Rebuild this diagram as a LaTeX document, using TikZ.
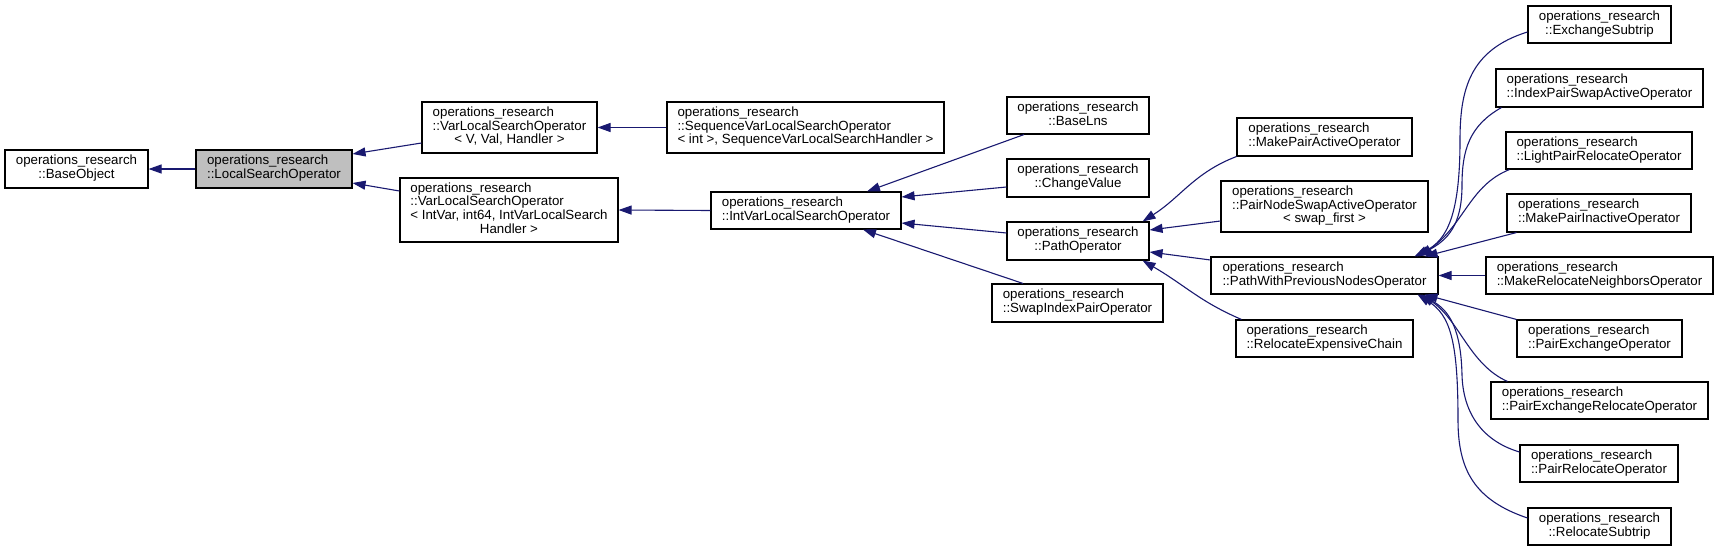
\documentclass[tikz,border=0pt]{standalone}
\usepackage{fontspec}
\setmainfont{Liberation Sans}
\usetikzlibrary{arrows.meta,calc}
\definecolor{edgeblue}{HTML}{191970}
\definecolor{boxgray}{HTML}{BFBFBF}
\newcommand\dxlabel[2]{\begin{tabular}{@{}l@{}}#1\\\multicolumn{1}{@{}c@{}}{#2}\end{tabular}}
\begin{document}
\begin{tikzpicture}[x=1pt,y=-1pt,
  box/.style={draw=black, line width=1.1pt, inner sep=0pt, fill=white,
    font=\fontsize{13.3}{13.6}\selectfont},
  sz/.style 2 args={minimum width=#1pt, minimum height=#2pt},
  edge/.style={draw=edgeblue, line width=1.1pt, -{Triangle[length=13pt,width=9pt]}}]
\useasboundingbox (0,0) rectangle (1718,551);

\node[box,sz={143}{38}] (base) at (76.5,169) {\dxlabel{operations\_research}{::BaseObject}};
\node[box,sz={156}{38},fill=boxgray] (lso) at (274,169) {\dxlabel{operations\_research}{::LocalSearchOperator}};
\node[box,sz={175}{51}] (vlsoV) at (509.5,127.5) {\dxlabel{operations\_research\\::VarLocalSearchOperator}{< V, Val, Handler >}};
\node[box,sz={218}{64}] (vlsoI) at (509,210) {\dxlabel{operations\_research\\::VarLocalSearchOperator\\< IntVar, int64, IntVarLocalSearch}{Handler >}};
\node[box,sz={277}{51}] (seq) at (805.5,127.5) {\dxlabel{operations\_research\\::SequenceVarLocalSearchOperator}{< int >, SequenceVarLocalSearchHandler >}};
\node[box,sz={190}{37}] (ivlso) at (806,210.5) {\dxlabel{operations\_research}{::IntVarLocalSearchOperator}};
\node[box,sz={142}{37}] (baselns) at (1078,115.5) {\dxlabel{operations\_research}{::BaseLns}};
\node[box,sz={142}{38}] (changev) at (1078,178) {\dxlabel{operations\_research}{::ChangeValue}};
\node[box,sz={142}{38}] (pathop) at (1078,241) {\dxlabel{operations\_research}{::PathOperator}};
\node[box,sz={171}{38}] (swapidx) at (1077.5,303) {\dxlabel{operations\_research}{::SwapIndexPairOperator}};
\node[box,sz={175}{38}] (mkpairact) at (1324.5,137) {\dxlabel{operations\_research}{::MakePairActiveOperator}};
\node[box,sz={207}{51}] (pairnode) at (1324.5,206.5) {\dxlabel{operations\_research\\::PairNodeSwapActiveOperator}{< swap\_first >}};
\node[box,sz={227}{37}] (pathprev) at (1324.5,275.5) {\dxlabel{operations\_research}{::PathWithPreviousNodesOperator}};
\node[box,sz={177}{37}] (relocexp) at (1324.5,338.5) {\dxlabel{operations\_research}{::RelocateExpensiveChain}};
\node[box,sz={143}{37}] (exsub) at (1599.5,24.5) {\dxlabel{operations\_research}{::ExchangeSubtrip}};
\node[box,sz={207}{38}] (idxpair) at (1599.5,88) {\dxlabel{operations\_research}{::IndexPairSwapActiveOperator}};
\node[box,sz={186}{37}] (lightpair) at (1599,150.5) {\dxlabel{operations\_research}{::LightPairRelocateOperator}};
\node[box,sz={184}{38}] (mkpairinact) at (1599,213) {\dxlabel{operations\_research}{::MakePairInactiveOperator}};
\node[box,sz={227}{37}] (mkrelocn) at (1599.5,275.5) {\dxlabel{operations\_research}{::MakeRelocateNeighborsOperator}};
\node[box,sz={165}{37}] (pairex) at (1599.5,338.5) {\dxlabel{operations\_research}{::PairExchangeOperator}};
\node[box,sz={217}{37}] (pairexreloc) at (1599.5,400.5) {\dxlabel{operations\_research}{::PairExchangeRelocateOperator}};
\node[box,sz={158}{37}] (pairreloc) at (1599,463.5) {\dxlabel{operations\_research}{::PairRelocateOperator}};
\node[box,sz={143}{37}] (relocsub) at (1599.5,526.5) {\dxlabel{operations\_research}{::RelocateSubtrip}};

% edges (child -> parent, arrow at parent)
\draw[edge] (lso.west) -- (base.east);
\draw[edge] ($(vlsoV.west)+(0,15.5)$) -- ($(lso.east)+(0,-15)$);
\draw[edge] ($(vlsoI.west)+(0,-19)$) -- ($(lso.east)+(0,14)$);
\draw[edge] (seq.west) -- (vlsoV.east);
\draw[edge] (ivlso.west) -- (vlsoI.east);
\draw[edge] ($(baselns.south)+(-54,0)$) -- ($(ivlso.north)+(61,0)$);
\draw[edge] ($(changev.west)+(0,9)$) -- ($(ivlso.east)+(0,-13.5)$);
\draw[edge] ($(pathop.west)+(0,-8)$) -- ($(ivlso.east)+(0,12.5)$);
\draw[edge] ($(swapidx.north)+(-54.5,0)$) -- ($(ivlso.south)+(57,0)$);

\draw[edge] (mkpairact.south west) .. controls +(-42,16) and +(38,-24) .. ($(pathop.north east)+(-7,0)$);
\draw[edge] ($(pairnode.west)+(0,14.5)$) -- ($(pathop.east)+(0,-11)$);
\draw[edge] ($(pathprev.west)+(0,-15.5)$) -- ($(pathop.east)+(0,11)$);
\draw[edge] ($(relocexp.north west)+(6,0)$) .. controls +(-42,-18) and +(43,25) .. ($(pathop.south east)+(-7,0)$);

\coordinate (es1) at (1460,140);
\coordinate (ip1) at (1462,185);
\coordinate (pr1) at (1462,375);
\coordinate (rs1) at (1458,420);
\draw[edge] ($(exsub.west)+(0,7.5)$) .. controls +(-58,18) and (1460,90) .. (es1) .. controls (1460,215) and (1447,240) .. ($(pathprev.north east)+(-24,0)$);
\draw[edge] ($(idxpair.south west)+(6,0)$) .. controls +(-32,18) and (1462,150) .. (ip1) .. controls (1462,225) and (1448,240) .. ($(pathprev.north east)+(-22,0)$);
\draw[edge] ($(lightpair.south west)+(4,0)$) .. controls +(-40,16) and +(45,-32) .. ($(pathprev.north east)+(-19,0)$);
\draw[edge] ($(mkpairinact.south west)+(10,0)$) -- ($(pathprev.north east)+(-14,0)$);
\draw[edge] (mkrelocn.west) -- (pathprev.east);
\draw[edge] (pairex.north west) -- ($(pathprev.south east)+(-14,0)$);
\draw[edge] ($(pairexreloc.north west)+(17,0)$) .. controls +(-38,-17) and +(38,26) .. ($(pathprev.south east)+(-17,0)$);
\draw[edge] ($(pairreloc.west)+(0,-11.5)$) .. controls +(-40,-12) and (1463,410) .. (pr1) .. controls (1461,330) and (1450,310) .. ($(pathprev.south east)+(-19,0)$);
\draw[edge] ($(relocsub.west)+(0,-8.5)$) .. controls +(-53,-18) and (1458,470) .. (rs1) .. controls (1458,340) and (1450,315) .. ($(pathprev.south east)+(-21,0)$);
\end{tikzpicture}
\end{document}
